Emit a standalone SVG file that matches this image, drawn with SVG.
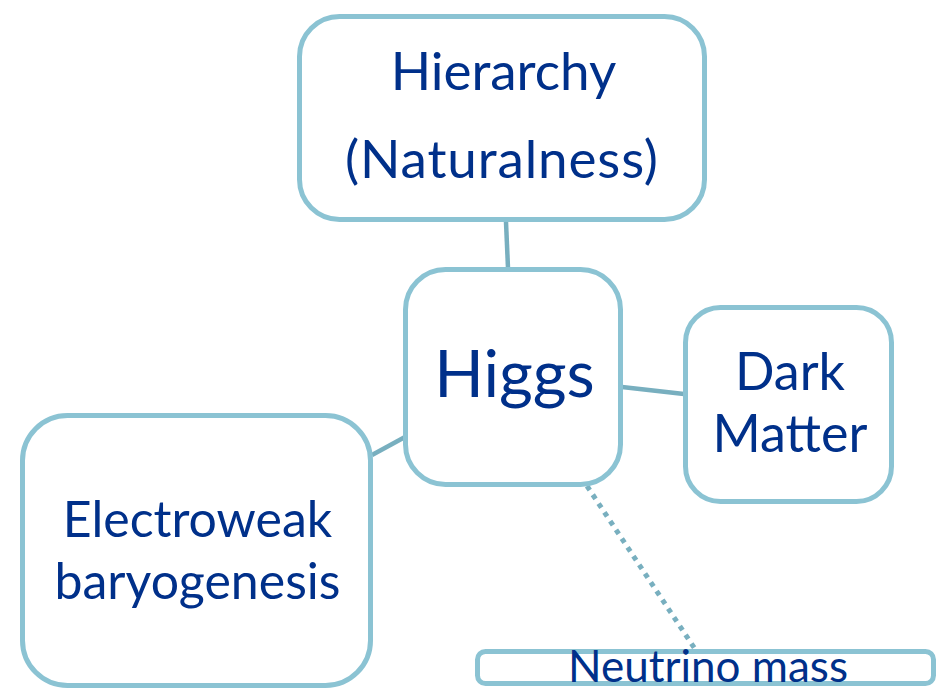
<svg xmlns="http://www.w3.org/2000/svg" width="937" height="691" viewBox="0 0 937 691">
<style>
.box{fill:#fff;stroke:#8BC3D3;stroke-width:5}
.con{fill:none;stroke:#78AFBF;stroke-width:4.5}
.dot{fill:none;stroke:#78AFBF;stroke-width:5;stroke-dasharray:5 5.5}
text{font-family:Lato,"Liberation Sans",sans-serif;fill:#00308A;text-anchor:middle}
</style>
<rect width="937" height="691" fill="#fff"/>
<g id="connectors">
<line class="con" x1="506" y1="222" x2="508" y2="268"/>
<line class="con" x1="622" y1="387" x2="684" y2="394"/>
<line class="con" x1="405" y1="437" x2="372" y2="455"/>
<line class="dot" x1="587" y1="486" x2="695" y2="649"/>
</g>
<g id="hierarchy">
<rect class="box" x="299.5" y="16.5" width="405" height="203" rx="40"/>
<text x="503.5" y="90" font-size="53">Hierarchy</text>
<text x="501.5" y="178" font-size="53" textLength="313" lengthAdjust="spacing">(Naturalness)</text>
</g>
<g id="higgs">
<rect class="box" x="405.5" y="269.5" width="215" height="215" rx="40"/>
<text x="514.5" y="397" font-size="65">Higgs</text>
</g>
<g id="darkmatter">
<rect class="box" x="685.5" y="307.5" width="206" height="194" rx="35"/>
<text x="790" y="390" font-size="52">Dark</text>
<text x="790" y="452" font-size="52">Matter</text>
</g>
<g id="electroweak">
<rect class="box" x="22.5" y="415.5" width="348" height="270" rx="45"/>
<text x="197.5" y="537" font-size="50">Electroweak</text>
<text x="197.5" y="599" font-size="50">baryogenesis</text>
</g>
<g id="neutrino">
<rect class="box" x="477.5" y="651.5" width="456" height="32" rx="8"/>
<text x="708" y="682" font-size="44">Neutrino mass</text>
</g>
</svg>
